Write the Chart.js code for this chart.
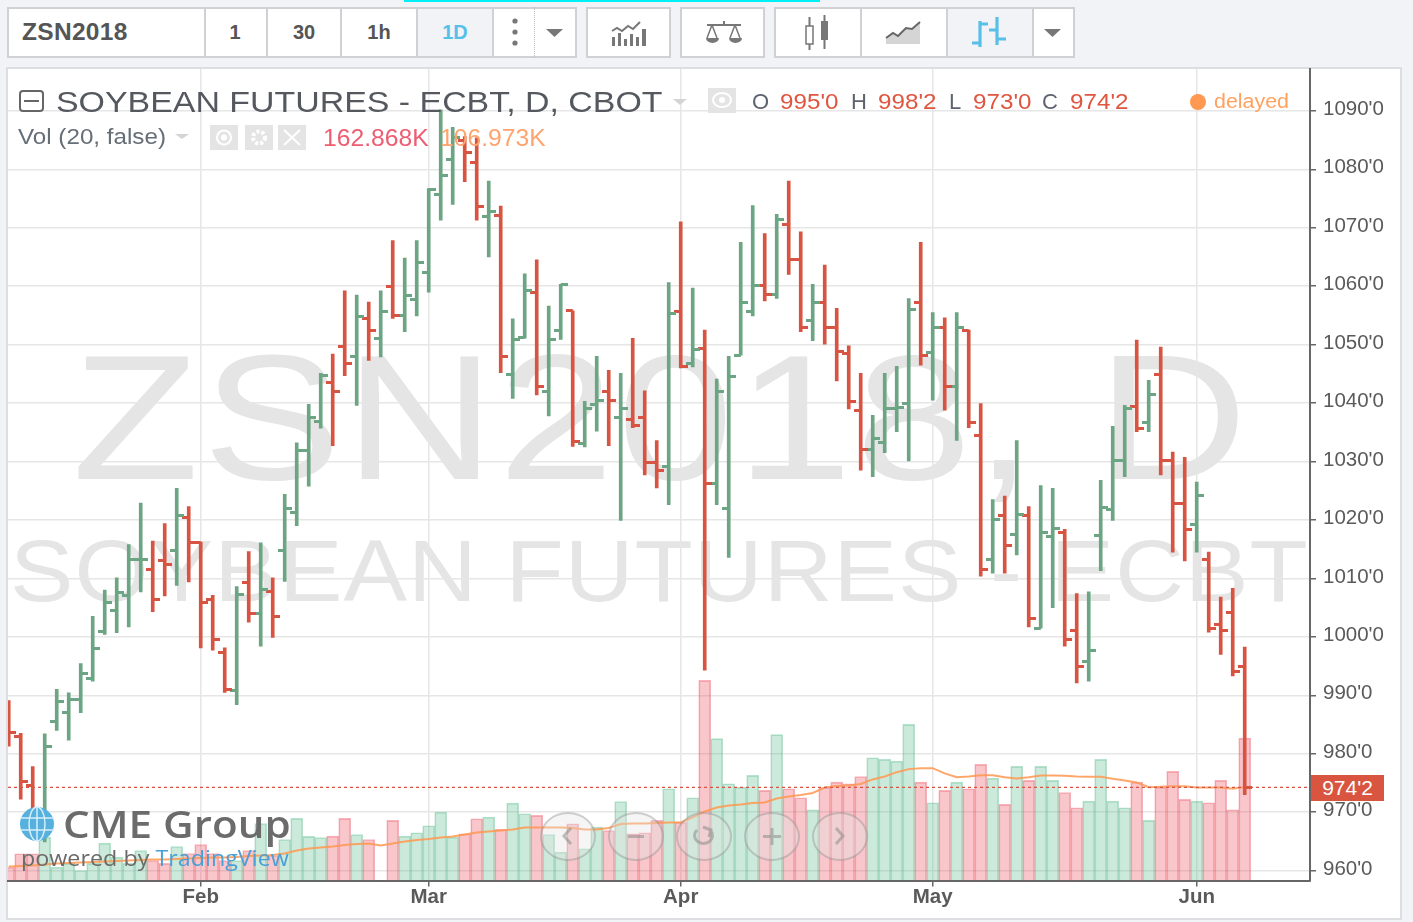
<!DOCTYPE html>
<html><head><meta charset="utf-8">
<script src="https://cdn.jsdelivr.net/npm/chart.js@4"></script>
<style>
html,body{margin:0;padding:0;width:1413px;height:922px;overflow:hidden;background:#f1f3f6;font-family:"Liberation Sans",Arial,sans-serif}
#page{position:absolute;left:0;top:0;width:1413px;height:922px;filter:blur(.45px)}
.abs{position:absolute;white-space:nowrap}
#cyan{left:404px;top:0;width:416px;height:2px;background:#00f0f8}
.box{position:absolute;top:7px;height:47px;background:#fff;border:2px solid #cfd1d4;box-sizing:content-box}
.sep{position:absolute;top:7px;width:2px;height:51px;background:#cfd1d4}
.active{position:absolute;top:9px;height:47px;background:#f1f3f6}
.tb{position:absolute;top:21px;font-weight:bold;font-size:20px;color:#555;transform:translateX(-50%)}
#frame{position:absolute;left:6px;top:67px;width:1392px;height:849px;background:#fff;border:2px solid #dcdee1}
.wm{position:absolute;color:#e5e5e5;white-space:nowrap;transform-origin:left top}
canvas{position:absolute;left:0;top:0}
.gbox{position:absolute;background:#e4e4e4;width:28px;height:25px}
.t{position:absolute;white-space:nowrap;line-height:1;transform-origin:left center}
.r{color:#e0553f}.g{color:#5d6470}
</style></head><body>
<div id="page">
<div class="abs" id="cyan"></div>
<!-- toolbar -->
<div class="box" style="left:7px;width:566px"></div>
<div class="active" style="left:418px;width:75px"></div>
<div class="sep" style="left:204px"></div><div class="sep" style="left:266px"></div><div class="sep" style="left:340px"></div><div class="sep" style="left:416px"></div><div class="sep" style="left:492px"></div>
<div style="position:absolute;left:534px;top:7px;height:51px;border-left:1px dotted #bbb"></div>
<div class="abs" style="left:22px;top:18px;font-size:24.5px;font-weight:bold;color:#555;letter-spacing:.3px">ZSN2018</div>
<div class="tb" style="left:235px">1</div><div class="tb" style="left:304px">30</div><div class="tb" style="left:379px">1h</div><div class="tb" style="left:455px;color:#58bfe8">1D</div>
<div class="box" style="left:586px;width:81px"></div>
<div class="box" style="left:680px;width:81px"></div>
<div class="box" style="left:774px;width:297px"></div>
<div class="active" style="left:948px;width:84px"></div>
<div class="sep" style="left:860px"></div><div class="sep" style="left:946px"></div><div class="sep" style="left:1032px"></div>
<svg class="abs" style="left:0;top:0" width="1413" height="66" fill="#777">
 <circle cx="515" cy="21" r="2.6"/><circle cx="515" cy="32" r="2.6"/><circle cx="515" cy="43" r="2.6"/>
 <path d="M546 29h17l-8.500 8z"/><path d="M1044 29h17l-8.500 8z"/>
 <path d="M612 37h3v9h-3zM618 33h3v13h-3zM624 39h3v7h-3zM630 34h3v12h-3zM636 37h3v9h-3zM642 29h4v17h-4z"/>
 <path d="M612 31l5-3 5 3 6-5 5 3 7-7" fill="none" stroke="#777" stroke-width="2"/>
 <path d="M707 25h34M724 21v4" stroke="#777" stroke-width="2"/>
 <path d="M712 25l-5 13M712 25l5 13M735 25l-5 13M735 25l5 13" stroke="#777" stroke-width="1.500" fill="none"/>
 <path d="M706 38h13a6.500 5 0 0 1-13 0zM729 38h13a6.500 5 0 0 1-13 0z"/>
 <rect x="806" y="26" width="7" height="18" fill="#fff" stroke="#777" stroke-width="1.500"/><path d="M809.500 17v9M809.500 44v6M824.500 15v6M824.500 39v10" stroke="#777" stroke-width="2"/><rect x="821" y="21" width="7" height="19"/>
 <path d="M886 44v-6l7-5 5 3 8-8 6 1 8-7v22z" fill="#d5d5d5"/><path d="M886 38l7-5 5 3 8-8 6 1 8-7" fill="none" stroke="#666" stroke-width="2"/>
 <path d="M980 47V21M980 24h8M972 43h8M997 17v28M989 30h8M997 39h9" fill="none" stroke="#58bfe8" stroke-width="3.200"/>
</svg>
<div id="frame"></div>
<!-- watermark -->
<div class="wm" id="wm1" style="left:72px;top:329px;font-size:178px;line-height:178px;letter-spacing:3px;transform:scaleX(1.168)">ZSN2018, D</div>
<div class="wm" id="wm2" style="left:10px;top:527px;font-size:88px;line-height:88px;letter-spacing:1px;transform:scaleX(1.082)">SOYBEAN FUTURES - ECBT</div>
<canvas id="c" width="1413" height="922"></canvas>
<!-- legend -->
<svg class="abs" style="left:0;top:0" width="1413" height="160">
 <rect x="20" y="91" width="23" height="20" rx="3" fill="none" stroke="#666" stroke-width="2"/><path d="M24 101h15" stroke="#666" stroke-width="2"/>
 <path d="M673 99h14l-7 6z" fill="#d4d4d4"/><path d="M175 134h14l-7 5z" fill="#d4d4d4"/>
</svg>
<div class="t" id="title" style="left:56px;top:87px;font-size:30px;color:#55595f;transform:scaleX(1.13)">SOYBEAN FUTURES - ECBT, D, CBOT</div>
<div class="gbox" style="left:708px;top:88px"></div>
<div class="t g" style="left:752px;top:91px;font-size:22px">O</div><div class="t r" style="left:780px;top:91px;font-size:22px;transform:scaleX(1.1)">995'0</div>
<div class="t g" style="left:851px;top:91px;font-size:22px">H</div><div class="t r" style="left:878px;top:91px;font-size:22px;transform:scaleX(1.1)">998'2</div>
<div class="t g" style="left:949px;top:91px;font-size:22px">L</div><div class="t r" style="left:973px;top:91px;font-size:22px;transform:scaleX(1.1)">973'0</div>
<div class="t g" style="left:1042px;top:91px;font-size:22px">C</div><div class="t r" style="left:1070px;top:91px;font-size:22px;transform:scaleX(1.1)">974'2</div>
<div class="abs" style="left:1190px;top:94px;width:16px;height:16px;border-radius:50%;background:#ff9850"></div>
<div class="t" style="left:1214px;top:91px;font-size:20px;color:#ffa260;transform:scaleX(1.07)">delayed</div>
<div class="t" style="left:18px;top:126px;font-size:22px;color:#666e78;transform:scaleX(1.1)">Vol (20, false)</div>
<div class="gbox" style="left:210px;top:125px"></div><div class="gbox" style="left:245px;top:125px"></div><div class="gbox" style="left:278px;top:125px"></div>
<svg class="abs" style="left:0;top:0" width="320" height="160" fill="none" stroke="#fff" stroke-width="2">
 <circle cx="224" cy="137.500" r="7"/><circle cx="224" cy="137.500" r="2" fill="#fff"/>
 <circle cx="259" cy="137.500" r="6" stroke-width="4" stroke-dasharray="3 2"/>
 <path d="M284 130l16 15M300 130l-16 15"/>
</svg>
<svg class="abs" style="left:700px;top:80px" width="50" height="40" fill="none" stroke="#fff" stroke-width="2"><ellipse cx="22" cy="20" rx="9" ry="7"/><circle cx="22" cy="20" r="2" fill="#fff"/></svg>
<div class="t" style="left:323px;top:127px;font-size:23.500px;color:#ee5c72;transform:scaleX(1.05)">162.868K</div>
<div class="t" style="left:440px;top:127px;font-size:23.500px;color:#ffa46e;transform:scaleX(1.05)">106.973K</div>
<!-- logo -->
<svg class="abs" style="left:0;top:790px" width="80" height="70">
 <circle cx="37" cy="34" r="17" fill="#56b1de"/><ellipse cx="37" cy="34" rx="8" ry="17" fill="none" stroke="#d8eefa" stroke-width="1.500"/><path d="M20 28h34M20 40h34M37 17v34" stroke="#d8eefa" stroke-width="1.500"/>
</svg>
<div class="t" id="cme" style="left:63px;top:805px;font-family:'Open Sans';font-weight:600;font-size:37px;color:#6b6b6b;transform:scaleX(1.14)">CME Group</div>
<div class="t" id="pow" style="left:21px;top:846px;font-size:22px;color:#6b6b6b;font-family:'Open Sans';transform:scaleX(1.06)">powered by <span style="color:#4a9fd6">TradingView</span></div>
<!-- nav -->
<svg class="abs" style="left:0;top:780px" width="900" height="110">
 <g fill="rgba(225,225,225,.35)" stroke="rgba(140,140,140,.4)" stroke-width="2">
  <ellipse cx="568" cy="56.500" rx="27" ry="23.500"/><ellipse cx="636" cy="56.500" rx="27" ry="23.500"/><ellipse cx="704" cy="56.500" rx="27" ry="23.500"/><ellipse cx="772" cy="56.500" rx="27" ry="23.500"/><ellipse cx="840" cy="56.500" rx="27" ry="23.500"/>
 </g>
 <g fill="none" stroke="rgba(140,140,140,.55)" stroke-width="3">
  <path d="M571 48l-7 8 7 8M628 56.500h16M697 50a9 8 0 1 0 14 1M703 47l8 3-2 7M772 48v17M763 56.500h18M836 48l7 8-7 8"/>
 </g>
</svg>
<!-- last price label -->
<div class="abs" style="left:1311px;top:775px;width:73px;height:26px;background:#d9553f;color:#fff;font-size:21px;line-height:26px;text-align:center">974'2</div>
</div>
<script>
const priceTicks=[960,970,980,990,1000,1010,1020,1030,1040,1050,1060,1070,1080,1090];
const monthLabels=['Feb','Mar','Apr','May','Jun'];
const monthBars=[16,35,56,77,99];
const opens=[986.0,983.0,974.5,967.7,985.5,987.0,989.3,992.8,1000.9,1004.5,
1007.0,1013.2,1011.5,1013.0,1014.7,1020.4,1016.2,1006.4,997.3,990.8,
1009.3,1004.0,1007.8,1014.7,1021.3,1031.8,1036.8,1043.5,1049.7,1047.9,
1054.5,1051.0,1059.9,1055.0,1057.8,1062.3,1075.7,1081.7,1084.9,1081.1,
1071.9,1072.1,1044.9,1051.2,1058.9,1041.9,1052.5,1055.8,1033.1,1039.8,
1041.9,1037.5,1037.2,1037.5,1029.9,1029.2,1055.6,1046.8,1049.3,1026.3,
1022.0,1048.2,1055.6,1060.2,1058.6,1070.6,1064.6,1054.2,1057.2,1053.0,
1048.4,1038.7,1032.1,1033.3,1039.0,1039.9,1057.2,1048.6,1053.0,1042.9,
1052.5,1034.5,1013.2,1020.7,1017.5,1020.7,1001.5,1017.1,1017.8,1001.0,
995.7,1017.4,1021.8,1030.2,1039.5,1036.6,1044.9,1030.2,1022.8,1019.2,
1013.2,1002.1,1004.2,995.0];
const highs=[989.1,983.5,977.8,983.4,991.0,990.4,995.4,1003.5,1008.0,1010.1,
1015.8,1022.9,1016.4,1019.4,1025.4,1022.3,1016.2,1007.1,998.1,1008.6,
1014.6,1016.1,1010.1,1024.4,1033.2,1039.8,1045.1,1048.4,1059.2,1058.5,
1057.3,1059.2,1067.8,1064.8,1067.8,1076.7,1090.2,1087.2,1085.6,1085.4,
1078.0,1073.7,1054.4,1062.1,1064.5,1056.6,1060.3,1055.8,1040.3,1048.0,
1045.6,1045.1,1051.1,1042.1,1033.6,1060.6,1071.0,1059.7,1052.5,1044.1,
1048.0,1067.5,1073.8,1069.0,1072.3,1078.0,1069.3,1060.3,1063.6,1056.2,
1049.8,1045.1,1037.9,1045.1,1046.3,1057.9,1067.5,1055.5,1054.6,1055.5,
1052.5,1039.9,1023.5,1024.1,1033.6,1022.3,1025.9,1025.4,1018.4,1007.4,
1007.7,1026.8,1036.0,1039.6,1050.8,1043.9,1049.6,1031.6,1030.7,1026.5,
1014.5,1006.8,1008.3,998.25];
const lows=[981.3,972.2,969.1,964.9,984.0,982.3,987.0,992.4,1000.4,1000.7,
1001.7,1007.7,1004.3,1007.0,1008.8,1009.4,998.1,997.7,990.5,988.4,
1002.5,998.4,999.9,1009.5,1019.0,1025.8,1035.7,1032.7,1044.7,1039.6,
1047.3,1047.9,1054.5,1052.2,1054.9,1059.0,1071.3,1074.0,1077.9,1071.3,
1065.0,1045.2,1040.8,1051.1,1041.4,1037.8,1050.9,1032.6,1032.5,1035.2,
1032.7,1019.9,1035.8,1027.7,1025.5,1022.6,1046.0,1046.2,994.3,1022.6,
1013.6,1048.2,1054.9,1057.5,1057.9,1062.0,1052.2,1050.7,1050.1,1043.8,
1039.0,1028.5,1027.4,1031.5,1035.1,1030.1,1046.5,1040.5,1038.8,1033.6,
1035.8,1010.4,1010.9,1010.9,1014.0,1001.7,1001.5,1005.0,998.4,992.1,
992.4,1011.3,1019.9,1027.4,1035.1,1035.1,1027.7,1014.5,1013.0,1014.5,
1000.8,997.0,993.3,973.0];
const closes=[983.7,975.3,970.5,981.3,989.0,989.3,993.8,998.0,1005.8,1007.6,
1013.3,1013.2,1006.4,1012.4,1020.8,1016.2,1005.8,999.5,991.0,1007.2,
1004.0,1008.1,1003.4,1022.0,1031.8,1037.5,1044.8,1041.9,1046.8,1054.8,
1052.5,1055.7,1055.0,1058.4,1064.1,1076.6,1079.0,1085.5,1082.9,1073.6,
1072.7,1047.9,1050.8,1059.2,1042.9,1050.9,1060.3,1033.4,1039.0,1040.5,
1040.5,1039.0,1036.2,1029.9,1028.5,1055.3,1046.2,1049.2,1026.3,1041.9,
1044.6,1057.2,1060.1,1058.6,1071.5,1064.6,1052.9,1057.2,1053.0,1048.8,
1040.2,1032.1,1033.9,1039.0,1039.2,1056.0,1048.2,1053.0,1042.9,1053.0,
1036.6,1011.5,1020.1,1015.7,1021.0,1003.1,1017.8,1018.6,999.5,995.0,
997.7,1022.2,1030.2,1039.0,1035.7,1041.4,1030.2,1022.8,1018.4,1024.1,
1001.5,1001.0,994.1,974.25];
const volumes=[15.2,30.6,30.6,49.6,15.2,19.5,11.4,19.5,42.7,26.7,
19.5,34.3,22.9,19.5,38.9,30.9,41.2,30.9,22.9,22.9,
34.3,65.2,28.6,46.9,71.0,50.4,49.2,50.7,71.0,52.6,
46.9,null,68.7,50.7,54.6,62.6,78.2,49.6,53.4,70.6,
72.4,58.4,88.5,76.3,74.4,52.6,32.4,64.9,36.3,61.0,
57.2,90.4,53.4,54.6,68.7,104.9,66.7,94.6,228.9,162.2,
110.7,106.8,120.2,103.0,166.8,104.9,94.6,80.9,106.1,112.5,
110.7,119.0,140.4,138.5,136.5,178.5,112.5,88.9,103.0,112.5,
104.9,132.8,117.1,87.0,130.5,114.5,130.5,114.5,100.7,83.2,
90.8,138.5,90.8,83.2,112.5,68.7,106.8,124.8,92.7,90.8,
88.9,114.5,80.9,162.868];
const volumeMA=[16.0,16.6,17.2,18.3,19.5,20.0,20.6,21.2,21.7,22.3,
22.9,23.5,24.0,24.0,24.6,25.2,25.8,26.3,26.3,26.9,
28.0,28.6,29.2,30.9,34.3,36.6,37.8,38.9,40.6,41.8,
42.3,40.1,42.3,44.6,46.4,47.5,49.2,50.4,52.6,54.9,
56.1,57.2,58.4,60.7,60.7,60.7,60.7,60.1,58.4,58.4,
60.1,64.7,65.2,65.2,65.8,66.4,66.4,72.1,79.0,83.5,
85.8,87.0,88.7,89.3,93.8,96.1,97.9,100.1,106.4,108.2,
108.7,110.4,115.6,119.0,123.9,127.4,128.5,128.5,122.5,118.2,
119.0,120.5,120.5,118.2,116.7,118.2,120.2,120.2,119.8,119.0,
118.7,118.7,116.4,114.5,112.2,106.8,107.2,107.9,107.9,106.4,
106.4,106.4,105.0,106.973];
const lastClose=974.25;

const UP='#6ba583',DOWN='#d75442';
const isUp=closes.map((c,i)=>c>=opens[i]);
function tick(color,side){const k=document.createElement('canvas');k.width=14;k.height=3;const x=k.getContext('2d');x.fillStyle=color;x.fillRect(side<0?0:7,0,7,3);return k;}
const T={uL:tick(UP,-1),uR:tick(UP,1),dL:tick(DOWN,-1),dR:tick(DOWN,1)};
const X_MIN=-0.06,X_MAX=108.44;
const pts=a=>a.map((v,i)=>({x:i,y:v}));
new Chart(document.getElementById('c'),{
 data:{datasets:[
  {type:'bar',order:6,yAxisID:'v',grouped:false,barThickness:12,borderWidth:1,data:pts(volumes),
   backgroundColor:isUp.map(u=>u?'rgba(83,185,135,.3)':'rgba(235,77,92,.32)'),
   borderColor:isUp.map(u=>u?'rgba(83,185,135,.42)':'rgba(235,77,92,.42)')},
  {type:'line',order:5,yAxisID:'v',data:pts(volumeMA),borderColor:'rgba(255,152,80,.85)',borderWidth:2,pointRadius:0,tension:0},
  {type:'line',order:4,yAxisID:'y',data:[{x:X_MIN,y:lastClose},{x:X_MAX,y:lastClose}],borderColor:'#d75442',borderWidth:1.3,borderDash:[3,3],pointRadius:0},
  {type:'bar',order:3,yAxisID:'y',grouped:false,barThickness:3,borderWidth:0,data:lows.map((l,i)=>({x:i,y:[l,highs[i]]})),backgroundColor:isUp.map(u=>u?UP:DOWN)},
  {type:'scatter',order:2,yAxisID:'y',data:pts(opens),showLine:false,pointRadius:7,pointStyle:isUp.map(u=>u?T.uL:T.dL)},
  {type:'scatter',order:1,yAxisID:'y',data:pts(closes),showLine:false,pointRadius:7,pointStyle:isUp.map(u=>u?T.uR:T.dR)}
 ]},
 options:{responsive:false,animation:false,events:[],
  layout:{padding:{left:8,right:13,top:69,bottom:0}},
  plugins:{legend:{display:false},tooltip:{enabled:false}},
  scales:{
   x:{type:'linear',offset:false,min:X_MIN,max:X_MAX,
    afterBuildTicks:s=>{s.ticks=monthBars.map(v=>({value:v}));},
    afterFit:s=>{s.height=41.5;},
    grid:{offset:false,color:'#e6e6e6',lineWidth:1.5,tickLength:6,tickColor:'#666',tickWidth:1.5},
    border:{color:'#666',width:2},
    ticks:{autoSkip:false,maxRotation:0,padding:-1,color:'#5a5a5a',font:{family:'"Liberation Sans"',weight:'bold',size:20.5},
     callback:v=>monthLabels[monthBars.indexOf(v)]||''}},
   y:{type:'linear',position:'right',min:958.30,max:1097.17,
    afterBuildTicks:s=>{s.ticks=priceTicks.map(v=>({value:v}));},
    afterFit:s=>{s.width=90;},
    grid:{color:'#e6e6e6',lineWidth:1.5,tickLength:6,tickColor:'#666',tickWidth:1.5},
    border:{color:'#666',width:2},
    ticks:{padding:7,labelOffset:-1.5,color:'#5a5a5a',font:{family:'"Liberation Sans"',size:20.5},callback:v=>v+"'0"}},
   v:{type:'linear',display:false,min:0,max:928.2}
  }
 }
});
</script>
</body></html>
